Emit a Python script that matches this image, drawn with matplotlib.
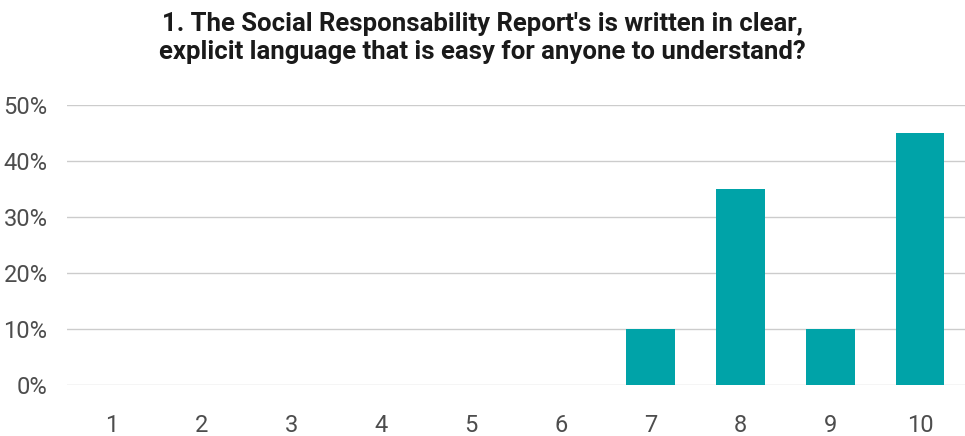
import matplotlib
matplotlib.use("Agg")
import matplotlib.pyplot as plt
from matplotlib.ticker import PercentFormatter

categorias = ["1", "2", "3", "4", "5", "6", "7", "8", "9", "10"]
porcentajes = [0, 0, 0, 0, 0, 0, 10, 35, 10, 45]
titulo = ("1. The Social Responsability Report's is written in clear,\n"
          "explicit language that is easy for anyone to understand?")

plt.rcParams['font.family'] = ['Roboto', 'DejaVu Sans']

fig = plt.figure(figsize=(9.65, 4.36), dpi=100)
ax = fig.add_axes([0.0694, 0.117, 0.9306, 0.642])

x = range(len(categorias))
ax.bar(x, porcentajes, width=0.54, color="#00A3A8", zorder=3)

ax.set_xlim(-0.5, len(categorias) - 0.5)
ax.set_ylim(0, 50)
ax.set_yticks(range(0, 51, 10))
ax.yaxis.set_major_formatter(PercentFormatter(decimals=0))
ax.set_xticks(list(x))
ax.set_xticklabels(categorias)

ax.grid(axis='y', color="#cccccc", linewidth=1, zorder=0)
for s in ax.spines.values():
    s.set_visible(False)
ax.tick_params(length=0, labelsize=17, labelcolor="#4d4d4d")
ax.tick_params(axis='y', pad=14)
ax.tick_params(axis='x', pad=21)

fig.text(0.5, 0.972, titulo, ha='center', va='top', fontsize=18.5,
         fontweight='bold', color="#1a1a1a", linespacing=1.22)

fig.savefig("out.png", dpi=100)
